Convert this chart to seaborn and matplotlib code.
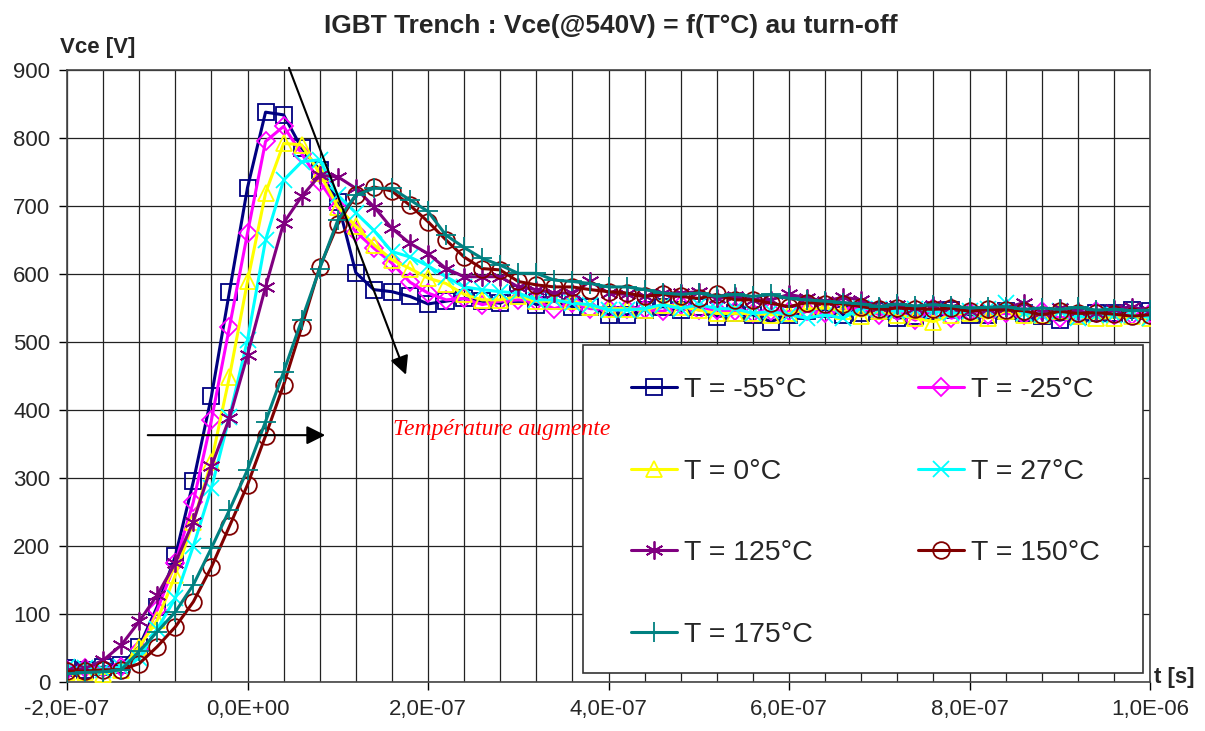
import numpy as np
import pandas as pd
import matplotlib
matplotlib.use("Agg")
import matplotlib.pyplot as plt
import matplotlib.ticker as mticker
from matplotlib.patches import Rectangle
import seaborn as sns

# time base: one sample every 20 ns from -200 ns to 1 us
t = np.arange(61) * 2e-8 - 2e-7

vce_m55 = [20, 18, 22, 25, 52, 111, 185, 295, 420, 574, 727, 838, 834, 785, 753, 706, 602, 577, 574, 567,
           556, 560, 564, 560, 557, 570, 555, 560, 552, 552, 540, 540, 547, 552, 547, 552, 537, 542, 540, 530,
           540, 545, 548, 540, 542, 545, 535, 538, 545, 547, 540, 540, 545, 543, 538, 532, 538, 542, 542, 547, 545]
vce_m25 = [18, 20, 20, 22, 47, 106, 175, 265, 385, 522, 660, 795, 817, 777, 736, 697, 662, 638, 616, 588,
           572, 562, 564, 555, 560, 562, 560, 549, 557, 549, 549, 549, 549, 545, 555, 547, 547, 545, 542, 545,
           545, 545, 542, 548, 552, 540, 545, 532, 550, 535, 544, 540, 542, 540, 545, 535, 540, 545, 540, 540, 543]
vce_0 = [15, 14, 12, 18, 52, 91, 157, 236, 324, 449, 589, 719, 792, 790, 748, 699, 670, 643, 621, 608,
         594, 586, 570, 562, 562, 567, 560, 560, 560, 552, 549, 549, 547, 555, 552, 547, 542, 542, 542, 540,
         542, 548, 550, 545, 538, 545, 540, 535, 530, 540, 543, 535, 546, 540, 540, 545, 538, 535, 536, 538, 535]
vce_27 = [22, 20, 18, 22, 35, 78, 123, 200, 285, 390, 503, 650, 738, 765, 768, 716, 690, 664, 633, 625,
          612, 596, 581, 577, 574, 572, 562, 562, 557, 555, 547, 547, 549, 555, 549, 555, 549, 549, 542, 545,
          540, 535, 540, 535, 550, 548, 545, 548, 545, 542, 545, 548, 558, 542, 540, 545, 536, 540, 540, 540, 536]
vce_125 = [17, 20, 32, 54, 89, 128, 175, 236, 317, 388, 481, 581, 675, 714, 745, 743, 726, 699, 667, 645,
           630, 608, 596, 596, 596, 581, 577, 572, 572, 589, 572, 570, 567, 572, 572, 574, 564, 567, 562, 562,
           570, 565, 560, 566, 562, 552, 555, 550, 555, 552, 545, 548, 550, 558, 544, 550, 545, 542, 548, 552, 545]
vce_150 = [16, 16, 18, 18, 27, 52, 81, 118, 169, 229, 290, 362, 437, 522, 610, 673, 716, 728, 722, 701,
           677, 650, 625, 608, 606, 589, 584, 581, 581, 577, 574, 572, 567, 570, 567, 564, 570, 562, 562, 557,
           552, 558, 556, 556, 552, 548, 550, 549, 548, 550, 545, 548, 547, 546, 540, 545, 542, 543, 541, 538, 540]
vce_175 = [12, 14, 15, 18, 45, 74, 103, 143, 197, 253, 312, 383, 456, 532, 608, 679, 716, 726, 726, 709,
           692, 657, 639, 623, 613, 601, 601, 591, 589, 586, 581, 581, 577, 572, 570, 572, 567, 570, 567, 570,
           564, 562, 560, 558, 556, 552, 556, 553, 555, 553, 550, 551, 552, 548, 550, 548, 551, 547, 548, 546, 547]

labels = ["T = -55°C", "T = -25°C", "T = 0°C", "T = 27°C", "T = 125°C", "T = 150°C", "T = 175°C"]
series = [vce_m55, vce_m25, vce_0, vce_27, vce_125, vce_150, vce_175]
colors = ["#000080", "#FF00FF", "#FFFF00", "#00FFFF", "#800080", "#800000", "#008080"]
markers = ["s", "D", "^", "x", (6, 2, 0), "o", "+"]
msizes = [12, 9, 12, 11, 13, 12, 14]

sns.set_theme(style="white")
plt.rcParams["font.family"] = ["Liberation Sans", "DejaVu Sans"]

fig = plt.figure(figsize=(12.05, 7.31), dpi=100)
ax = fig.add_axes([67 / 1205, 1 - 682 / 731, (1150 - 67) / 1205, (682 - 70) / 731])

for lab, vals, col, mk, ms in zip(labels, series, colors, markers, msizes):
    sns.lineplot(x=t, y=vals, ax=ax, color=col, lw=2.2, marker=mk, markersize=ms,
                 markerfacecolor="none", markeredgecolor=col, markeredgewidth=1.3,
                 label=lab, legend=False, zorder=3)

ax.set_xlim(-2e-7, 1e-6)
ax.set_ylim(0, 900)
ax.xaxis.set_major_locator(mticker.MultipleLocator(2e-7))
ax.xaxis.set_minor_locator(mticker.MultipleLocator(4e-8))
ax.yaxis.set_major_locator(mticker.MultipleLocator(100))
ax.xaxis.set_major_formatter(mticker.FuncFormatter(lambda v, p: f"{v:.1E}".replace(".", ",")))
ax.grid(True, which="major", color="#222222", lw=0.9)
ax.grid(True, which="minor", axis="x", color="#222222", lw=0.9)
ax.tick_params(axis="both", which="major", direction="out", length=6, width=1, color="black",
               labelsize=16, pad=6, bottom=True, left=True)
ax.tick_params(axis="x", which="minor", length=0)
for s in ax.spines.values():
    s.set_color("#444444")
    s.set_linewidth(1.2)
ax.set_xlabel("")
ax.set_ylabel("")

fig.text(611 / 1205, 1 - 33 / 731, "IGBT Trench : Vce(@540V) = f(T°C) au turn-off",
         ha="center", va="baseline", fontsize=19, fontweight="bold")
fig.text(60 / 1205, 1 - 53 / 731, "Vce [V]", ha="left", va="baseline", fontsize=16, fontweight="bold")
fig.text(1154 / 1205, 1 - 683 / 731, "t [s]", ha="left", va="baseline", fontsize=16, fontweight="bold")

# annotations
arrow = dict(arrowstyle="-|>", color="black", lw=1.5, mutation_scale=28)
ax.annotate("", xy=(1.767e-7, 448), xytext=(4.49e-8, 907), arrowprops=arrow, annotation_clip=False, zorder=4)
ax.annotate("", xy=(8.92e-8, 363), xytext=(-1.136e-7, 363), arrowprops=arrow, zorder=4)
ax.text(1.612e-7, 363, "Température augmente", color="red", style="italic", fontsize=17,
        family=["Liberation Serif", "DejaVu Serif"], va="baseline", ha="left", zorder=8)

# legend box
ax.add_patch(Rectangle(((583 - 67) / 1083, (682 - 673) / 612), (1143 - 583) / 1083, (673 - 345) / 612,
                       transform=ax.transAxes, facecolor="white", edgecolor="#333333", lw=1.2, zorder=5))
handles, labs = ax.get_legend_handles_labels()
order = [0, 2, 4, 6, 1, 3, 5]  # row-major reading in two columns
leg = ax.legend([handles[i] for i in order], [labs[i] for i in order], ncol=2, loc="upper left",
                bbox_to_anchor=((617 - 67) / 1083, (682 - 363) / 612),
                frameon=False, fontsize=20.5, borderpad=0, handlelength=1.6, handletextpad=0.25,
                labelspacing=1.95, columnspacing=3.7)
leg.set_zorder(6)

fig.savefig("out.png", dpi=100, facecolor="white")
